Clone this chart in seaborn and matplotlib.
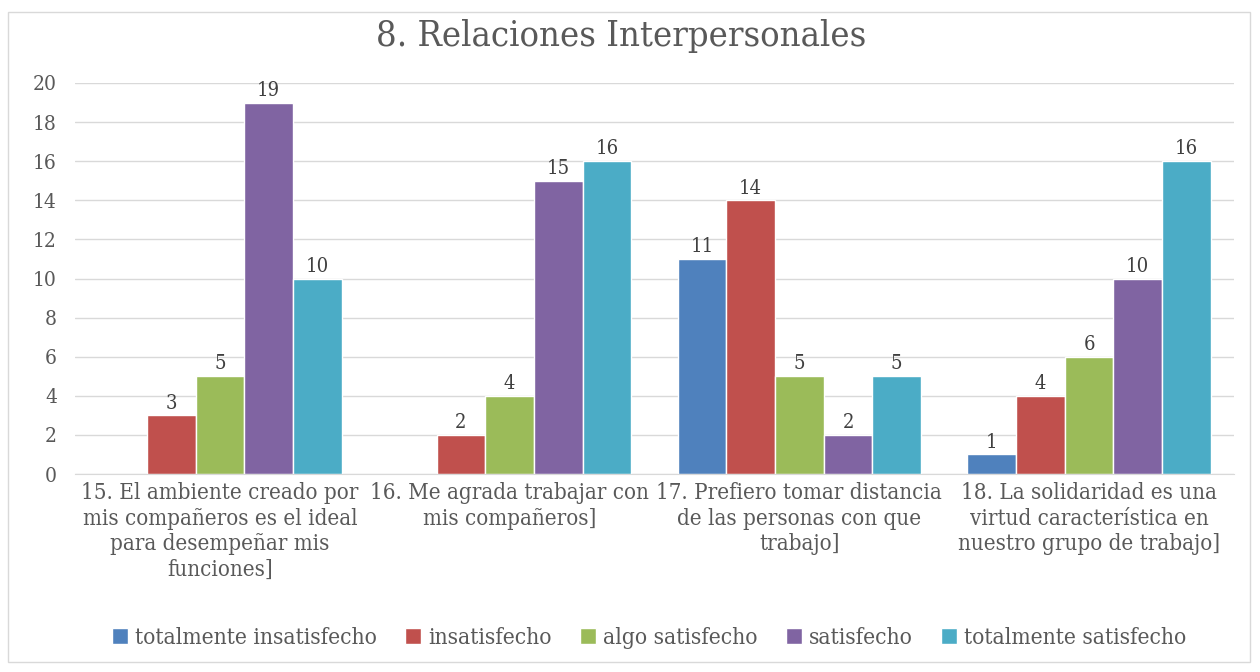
import matplotlib
matplotlib.use("Agg")
import matplotlib.pyplot as plt
import matplotlib.patches as mpatches
import seaborn as sns
import pandas as pd
import numpy as np

categories = [
    "15. El ambiente creado por\nmis compañeros es el ideal\npara desempeñar mis\nfunciones]",
    "16. Me agrada trabajar con\nmis compañeros]",
    "17. Prefiero tomar distancia\nde las personas con que\ntrabajo]",
    "18. La solidaridad es una\nvirtud característica en\nnuestro grupo de trabajo]",
]
series = ["totalmente insatisfecho", "insatisfecho", "algo satisfecho",
          "satisfecho", "totalmente satisfecho"]
totalmente_insatisfecho = [np.nan, np.nan, 11, 1]
insatisfecho = [3, 2, 14, 4]
algo_satisfecho = [5, 4, 5, 6]
satisfecho = [19, 15, 2, 10]
totalmente_satisfecho = [10, 16, 5, 16]
colors = ["#4F81BD", "#C0504D", "#9BBB59", "#8064A2", "#4BACC6"]

values = [totalmente_insatisfecho, insatisfecho, algo_satisfecho,
          satisfecho, totalmente_satisfecho]
rows = []
for s, vals in zip(series, values):
    for c, v in zip(categories, vals):
        rows.append({"cat": c, "serie": s, "val": v})
df = pd.DataFrame(rows)

sns.set_style("white")
FONT = ["DejaVu Serif", "DejaVu Sans"]
plt.rcParams["font.family"] = FONT
plt.rcParams["font.stretch"] = "condensed"
txt = "#595959"

fig = plt.figure(figsize=(12.6, 6.72), dpi=100)
fig.patches.append(mpatches.Rectangle((8/1260, 1-662/672), 1242/1260, 650/672,
                                      transform=fig.transFigure, fill=False,
                                      edgecolor="#D9D9D9", linewidth=1))
ax = fig.add_axes([75/1260, 1-474/672, 1159/1260, (474-83)/672])

sns.barplot(data=df.dropna(), x="cat", y="val", hue="serie", order=categories,
            hue_order=series, palette=colors, width=0.84, gap=0, ax=ax,
            saturation=1, errorbar=None, legend=True)

for cont in ax.containers:
    labels = ["" if np.isnan(v) else f"{v:g}" for v in cont.datavalues]
    ax.bar_label(cont, labels=labels, padding=2, fontsize=14.5, color="#404040",
                 fontstretch="condensed")

ax.set_ylim(0, 20)
ax.set_yticks(range(0, 21, 2))
ax.set_xlim(-0.5, 3.5)
ax.yaxis.grid(True, color="#D9D9D9", linewidth=1)
ax.set_axisbelow(True)
for sp in ["top", "right", "left"]:
    ax.spines[sp].set_visible(False)
ax.spines["bottom"].set_color("#D9D9D9")
ax.tick_params(axis="both", length=0, colors=txt, labelsize=15)
ax.tick_params(axis="y", pad=13)
ax.tick_params(axis="x", pad=6, labelsize=16)
ax.set_xlabel("")
ax.set_ylabel("")
for lab in ax.get_xticklabels():
    lab.set_linespacing(1.2)
    lab.set_fontstretch("condensed")
for lab in ax.get_yticklabels():
    lab.set_fontstretch("condensed")

fig.text(621/1260, 1-36/672, "8. Relaciones Interpersonales", fontsize=26,
         color=txt, ha="center", va="center", fontstretch="condensed")

handles, labs = ax.get_legend_handles_labels()
ax.legend_.remove()
fig.legend(handles, labs, loc="center", bbox_to_anchor=(649/1260, 1-638/672), ncol=5,
           frameon=False, handlelength=0.72, handleheight=0.72,
           handletextpad=0.3, columnspacing=1.25, labelcolor=txt,
           prop={"stretch": "condensed", "size": 16.3})

fig.savefig("out.png", dpi=100)
